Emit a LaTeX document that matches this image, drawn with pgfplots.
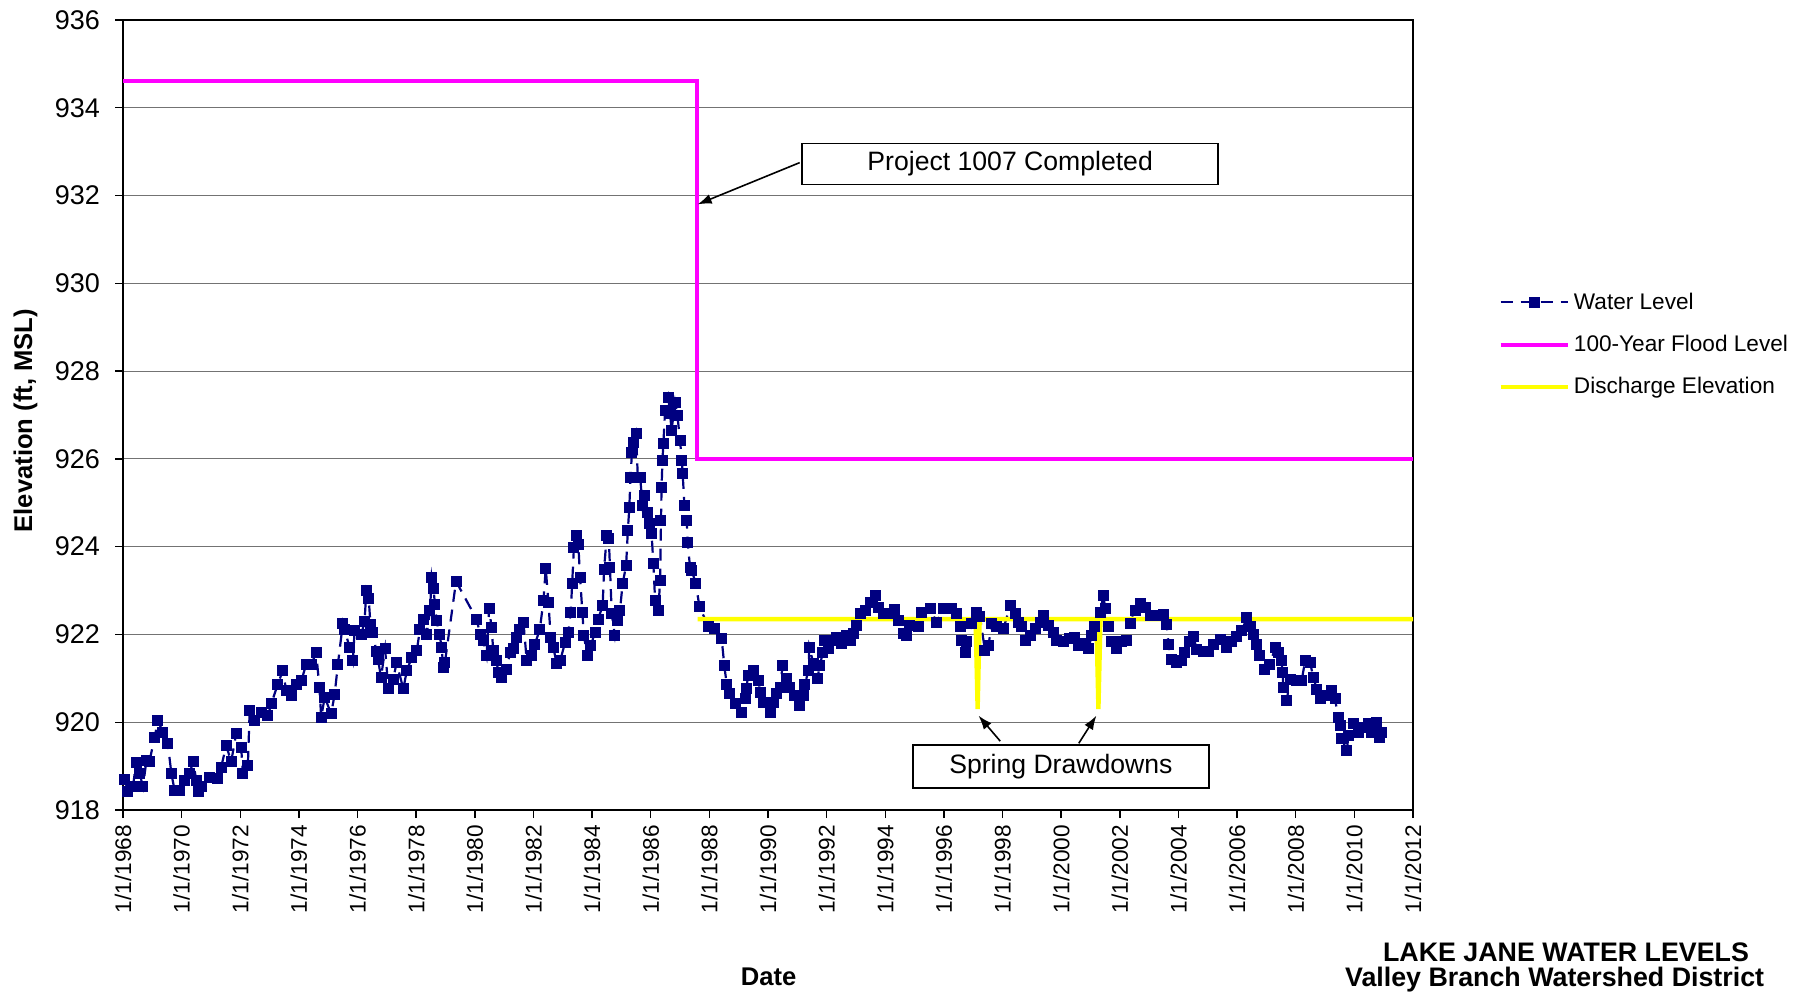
\documentclass[border=0pt]{standalone}
\usepackage{fontspec}
\setmainfont{Liberation Sans}
\usepackage{pgfplots}
\pgfplotsset{compat=1.18}
\usetikzlibrary{arrows.meta}
\definecolor{wlnavy}{RGB}{0,0,128}
\definecolor{floodmag}{RGB}{255,0,255}
\definecolor{dischyel}{RGB}{255,255,0}

\begin{document}
\begin{tikzpicture}
\begin{axis}[
  at={(0pt,0pt)}, anchor=south west,
  scale only axis, width=645pt, height=395pt,
  xmin=1968, xmax=2012, ymin=918, ymax=936,
  xtick={1968,1970,...,2012},
  xticklabels={1/1/1968,1/1/1970,1/1/1972,1/1/1974,1/1/1976,1/1/1978,1/1/1980,1/1/1982,1/1/1984,1/1/1986,1/1/1988,1/1/1990,1/1/1992,1/1/1994,1/1/1996,1/1/1998,1/1/2000,1/1/2002,1/1/2004,1/1/2006,1/1/2008,1/1/2010,1/1/2012},
  ytick={918,920,...,936},
  ymajorgrids, grid style={black!55, line width=0.6pt},
  axis line style={black, line width=0.7pt},
  tick style={black, line width=0.7pt},
  tick align=outside, major tick length=4pt,
  xtick pos=bottom, ytick pos=left,
  x tick label style={rotate=90, anchor=east, font=\fontsize{11.3}{13}\selectfont},
  y tick label style={xshift=-4pt, font=\fontsize{13.5}{15}\selectfont},
  /pgf/number format/assume math mode=true,
  clip=false,
  legend cell align=left,
  legend style={at={(1.066,0.589)}, anchor=west, draw=none, fill=none,
    inner sep=0pt, row sep=7.5pt, font=\fontsize{11.3}{13}\selectfont},
  legend image code/.code={\draw[mark repeat=2,mark phase=2,#1] plot coordinates {(0pt,0pt) (16.75pt,0pt) (33.5pt,0pt)};},
]
% water level (ft, MSL)
\addplot[wlnavy, line width=1.1pt, dash pattern=on 6pt off 4pt, mark=square*, mark size=2.2pt, mark options={solid}] coordinates {
(1968.06,918.69)(1968.17,918.42)(1968.34,918.53)(1968.45,919.09)(1968.57,918.83)(1968.68,918.53)(1968.80,919.13)(1968.90,919.10)(1969.08,919.66)(1969.19,920.04)(1969.36,919.77)(1969.53,919.51)(1969.65,918.83)(1969.76,918.45)(1969.93,918.45)(1970.10,918.68)(1970.27,918.83)(1970.39,919.10)(1970.50,918.68)(1970.56,918.42)(1970.67,918.53)(1970.95,918.74)(1971.24,918.72)(1971.35,918.98)(1971.52,919.47)(1971.69,919.10)(1971.86,919.74)(1972.03,919.43)(1972.09,918.83)(1972.26,919.02)(1972.32,920.26)(1972.49,920.04)(1972.72,920.23)(1972.94,920.15)(1973.06,920.42)(1973.28,920.87)(1973.45,921.17)(1973.57,920.72)(1973.74,920.60)(1973.91,920.87)(1974.08,920.94)(1974.25,921.32)(1974.42,921.32)(1974.59,921.58)(1974.70,920.79)(1974.76,920.11)(1974.88,920.57)(1975.10,920.19)(1975.22,920.64)(1975.33,921.32)(1975.50,922.26)(1975.56,922.11)(1975.73,921.70)(1975.84,921.40)(1975.90,922.08)(1976.13,922.00)(1976.24,922.30)(1976.30,923.00)(1976.38,922.83)(1976.44,922.23)(1976.52,922.04)(1976.64,921.62)(1976.70,921.43)(1976.80,921.02)
(1976.94,921.67)(1977.05,920.76)(1977.22,920.98)(1977.33,921.36)(1977.56,920.76)(1977.68,921.17)(1977.85,921.48)(1978.02,921.63)(1978.13,922.12)(1978.24,922.35)(1978.36,922.01)(1978.47,922.54)(1978.53,923.30)(1978.59,923.04)(1978.64,922.69)(1978.70,922.31)(1978.79,922.01)(1978.87,921.71)(1978.92,921.25)(1978.98,921.36)(1979.36,923.21)(1980.06,922.35)(1980.18,922.01)(1980.29,921.86)(1980.40,921.52)(1980.49,922.60)(1980.57,922.16)(1980.63,921.63)(1980.74,921.40)(1980.80,921.14)(1980.92,921.02)(1981.09,921.21)(1981.20,921.59)(1981.31,921.67)(1981.43,921.93)(1981.54,922.12)(1981.66,922.28)(1981.77,921.40)(1981.94,921.52)(1982.05,921.78)(1982.22,922.12)(1982.34,922.77)(1982.42,923.51)(1982.51,922.73)(1982.59,921.93)(1982.68,921.71)(1982.79,921.33)(1982.91,921.40)(1983.08,921.82)(1983.19,922.05)(1983.27,922.50)(1983.32,923.15)(1983.38,923.99)(1983.47,924.25)(1983.53,924.06)(1983.59,923.30)(1983.67,922.49)(1983.72,921.97)(1983.84,921.52)(1983.95,921.74)(1984.10,922.05)(1984.21,922.35)(1984.36,922.66)(1984.41,923.49)(1984.50,924.25)(1984.57,924.18)(1984.61,923.53)(1984.67,922.47)(1984.78,921.97)(1984.86,922.31)(1984.95,922.54)(1985.04,923.15)(1985.16,923.57)(1985.22,924.37)(1985.27,924.90)(1985.31,925.58)(1985.36,926.15)(1985.42,926.38)(1985.50,926.57)(1985.56,925.58)(1985.64,925.58)(1985.72,924.94)(1985.80,925.16)(1985.90,924.79)(1985.95,924.52)(1986.03,924.29)(1986.09,923.61)(1986.15,922.77)(1986.26,922.55)
(1986.32,923.23)(1986.35,924.60)(1986.37,925.35)(1986.40,925.96)(1986.43,926.34)(1986.49,927.10)(1986.60,927.40)(1986.66,927.03)(1986.71,926.65)(1986.83,927.29)(1986.91,926.99)(1987.00,926.42)(1987.06,925.96)(1987.09,925.66)(1987.15,924.94)(1987.23,924.60)(1987.26,924.10)(1987.34,923.53)(1987.40,923.46)(1987.54,923.15)(1987.66,922.64)(1987.97,922.17)(1988.19,922.13)(1988.42,921.90)(1988.51,921.29)(1988.59,920.87)(1988.70,920.65)(1988.88,920.42)(1989.10,920.23)(1989.22,920.53)(1989.25,920.76)(1989.33,921.06)(1989.50,921.18)(1989.67,920.95)(1989.75,920.68)(1989.84,920.46)(1990.07,920.23)(1990.18,920.46)(1990.30,920.65)(1990.41,920.80)(1990.50,921.29)(1990.64,920.99)(1990.75,920.80)(1990.89,920.61)(1991.09,920.38)(1991.21,920.61)(1991.26,920.87)(1991.38,921.18)(1991.41,921.71)(1991.55,921.33)(1991.68,920.99)(1991.77,921.29)(1991.87,921.60)(1991.91,921.86)(1992.06,921.67)(1992.23,921.86)(1992.34,921.94)(1992.51,921.79)(1992.69,921.98)(1992.80,921.86)(1992.91,922.02)(1993.03,922.20)(1993.14,922.47)(1993.31,922.55)(1993.48,922.73)(1993.65,922.89)(1993.77,922.62)(1993.94,922.47)(1994.16,922.47)(1994.33,922.58)(1994.45,922.32)(1994.62,922.02)
(1994.73,921.98)(1994.84,922.20)(1995.13,922.17)(1995.24,922.51)(1995.53,922.59)(1995.75,922.28)(1995.98,922.59)(1996.27,922.59)(1996.44,922.47)(1996.55,922.17)(1996.61,921.86)(1996.72,921.60)(1996.78,921.83)(1996.95,922.24)(1997.10,922.51)(1997.23,922.40)(1997.40,921.64)(1997.52,921.75)(1997.63,922.24)(1997.80,922.17)(1998.03,922.13)(1998.26,922.66)(1998.43,922.47)(1998.54,922.28)(1998.65,922.17)(1998.77,921.86)(1998.94,921.98)(1999.11,922.13)(1999.28,922.28)(1999.41,922.43)(1999.56,922.20)(1999.73,922.05)(1999.85,921.86)(2000.07,921.83)(2000.30,921.90)(2000.47,921.94)(2000.59,921.75)(2000.76,921.79)(2000.93,921.67)(2001.04,921.98)(2001.15,922.17)(2001.33,922.51)(2001.44,922.89)(2001.50,922.59)(2001.61,922.17)(2001.72,921.83)(2001.89,921.67)(2002.06,921.83)(2002.23,921.86)(2002.35,922.24)(2002.52,922.55)(2002.69,922.70)(2002.86,922.62)(2003.03,922.43)(2003.26,922.43)
(2003.48,922.45)(2003.60,922.23)(2003.66,921.77)(2003.77,921.43)(2003.94,921.36)(2004.11,921.40)(2004.22,921.58)(2004.39,921.85)(2004.51,921.96)(2004.62,921.66)(2004.85,921.62)(2005.02,921.62)(2005.19,921.77)(2005.42,921.89)(2005.65,921.70)(2005.82,921.85)(2005.99,921.96)(2006.16,922.08)(2006.33,922.38)(2006.44,922.19)(2006.56,922.00)(2006.67,921.77)(2006.78,921.51)(2006.95,921.21)(2007.12,921.32)(2007.30,921.70)(2007.41,921.58)(2007.52,921.40)(2007.55,921.13)(2007.58,920.79)(2007.69,920.49)(2007.81,920.98)(2008.03,920.94)(2008.20,920.94)(2008.32,921.40)(2008.49,921.36)(2008.60,921.02)(2008.72,920.75)(2008.83,920.53)(2009.06,920.60)(2009.23,920.72)(2009.34,920.53)(2009.45,920.11)(2009.51,919.92)(2009.57,919.62)(2009.74,919.36)(2009.80,919.70)(2009.97,919.96)(2010.14,919.77)(2010.31,919.89)(2010.48,919.96)(2010.59,919.77)(2010.76,920.00)(2010.85,919.66)(2010.93,919.77)
};
\addlegendentry{Water Level}
% 100-year flood level
\addplot[floodmag, line width=2pt, no marks] coordinates {
(1968,934.6)(1987.57,934.6)(1987.57,926.0)(2012,926.0)
};
\addlegendentry{100-Year Flood Level}
% discharge elevation with spring drawdowns
\addplot[dischyel, line width=2.2pt, no marks] coordinates {
(1987.6,922.35)(1997.08,922.35)(1997.15,920.3)(1997.22,922.35)(2001.2,922.35)(2001.27,920.3)(2001.34,922.35)(2012,922.35)
};
\addlegendentry{Discharge Elevation}

\node[draw=black, line width=0.8pt, fill=white, minimum width=208pt, minimum height=20.5pt, inner sep=0pt, font=\fontsize{13.3}{15}\selectfont] at (axis cs:1998.26,932.72) {Project 1007 Completed};
\draw[-{Latex[length=7pt,width=5pt]}, line width=0.8pt] (axis cs:1991.08,932.75) -- (axis cs:1987.6,931.8);
\node[draw=black, line width=0.8pt, fill=white, minimum width=148pt, minimum height=21.3pt, inner sep=0pt, font=\fontsize{13.3}{15}\selectfont] at (axis cs:1999.99,918.99) {Spring Drawdowns};
\draw[-{Latex[length=7pt,width=5pt]}, line width=0.8pt] (axis cs:1997.92,919.57) -- (axis cs:1997.18,920.15);
\draw[-{Latex[length=7pt,width=5pt]}, line width=0.8pt] (axis cs:2000.6,919.52) -- (axis cs:2001.2,920.15);
\end{axis}
\node[rotate=90, font=\bfseries\fontsize{12.8}{15}\selectfont] at (-48.8pt,194.7pt) {Elevation (ft, MSL)};
\node[font=\bfseries\fontsize{12.8}{15}\selectfont] at (322.8pt,-83.5pt) {Date};
\node[font=\bfseries\fontsize{13.4}{15}\selectfont] at (721.5pt,-71pt) {LAKE JANE WATER LEVELS};
\node[font=\bfseries\fontsize{13.4}{15}\selectfont] at (715.8pt,-84.6pt) {Valley Branch Watershed District};
\pgfresetboundingbox
\useasboundingbox (-61.5pt,-91.5pt) rectangle (842pt,405pt);
\end{tikzpicture}
\end{document}
